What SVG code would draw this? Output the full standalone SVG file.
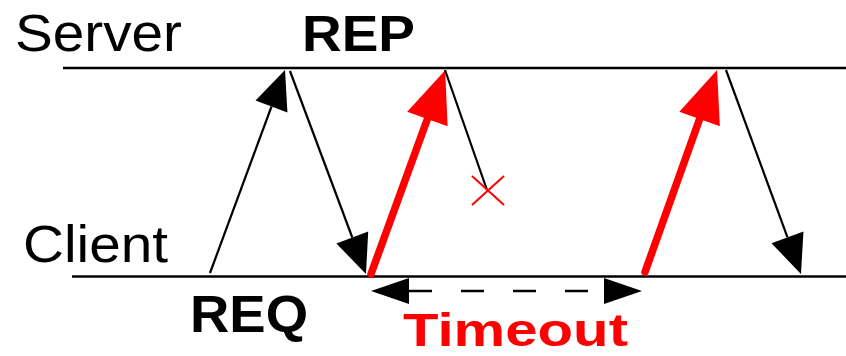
<svg xmlns="http://www.w3.org/2000/svg" width="846" height="356" viewBox="0 0 846 356">
<style>
.lbl{font-family:"Liberation Sans",Arial,sans-serif;fill:#000}
.b{font-weight:bold}
.red{fill:#ff0000}
.axis{stroke:#000;stroke-width:2.4;fill:none}
.msg{stroke:#000;stroke-width:2.2;fill:none}
.rmsg{stroke:#ff0000;stroke-width:7.5;fill:none;stroke-linecap:round}
</style>
<defs>
<marker id="ah" markerUnits="userSpaceOnUse" markerWidth="42" markerHeight="36" refX="0" refY="17" orient="auto" overflow="visible">
<path d="M0,0 L39,17 L0,34 z" fill="#000"/>
</marker>
<marker id="rah" markerUnits="userSpaceOnUse" markerWidth="54" markerHeight="44" refX="0" refY="21.5" orient="auto" overflow="visible">
<path d="M0,0 L52,21.5 L0,43 z" fill="#ff0000"/>
</marker>
<marker id="th" markerUnits="userSpaceOnUse" markerWidth="40" markerHeight="28" refX="0" refY="13" orient="auto-start-reverse" overflow="visible">
<path d="M0,0 L38,13 L0,26 z" fill="#000"/>
</marker>
</defs>
<g id="server">
<line class="axis" x1="63" y1="68" x2="846" y2="68"/>
<text class="lbl" x="15" y="51" font-size="51" textLength="167" lengthAdjust="spacingAndGlyphs">Server</text>
</g>
<g id="client">
<line class="axis" x1="72" y1="276.5" x2="846" y2="276.5"/>
<text class="lbl" x="23" y="262" font-size="52" textLength="145" lengthAdjust="spacingAndGlyphs">Client</text>
</g>
<g id="labels">
<text class="lbl b" x="302" y="51" font-size="50" textLength="113" lengthAdjust="spacingAndGlyphs">REP</text>
<text class="lbl b" x="190" y="332" font-size="51" textLength="118" lengthAdjust="spacingAndGlyphs">REQ</text>
<text class="lbl b red" x="403" y="346" font-size="46" textLength="225" lengthAdjust="spacingAndGlyphs">Timeout</text>
</g>
<g id="connectors">
<line class="msg" x1="210" y1="273" x2="271.5" y2="106.5" marker-end="url(#ah)"/>
<line class="msg" x1="290" y1="71" x2="352.3" y2="237.5" marker-end="url(#ah)"/>
<line class="rmsg" x1="371" y1="274" x2="427.4" y2="119" marker-end="url(#rah)"/>
<line class="msg" x1="445" y1="70" x2="487" y2="190"/>
<g id="lost" stroke="#ff0000" stroke-width="2">
<line x1="472" y1="176" x2="504" y2="205"/>
<line x1="504" y1="176" x2="472" y2="205"/>
</g>
<line class="rmsg" x1="645" y1="272" x2="699.6" y2="119" marker-end="url(#rah)"/>
<line class="msg" x1="726" y1="70" x2="787.5" y2="237.4" marker-end="url(#ah)"/>
<line stroke="#000" stroke-width="2.5" stroke-dasharray="23 29" x1="409" y1="291" x2="604" y2="291" marker-start="url(#th)" marker-end="url(#th)"/>
</g>
</svg>
